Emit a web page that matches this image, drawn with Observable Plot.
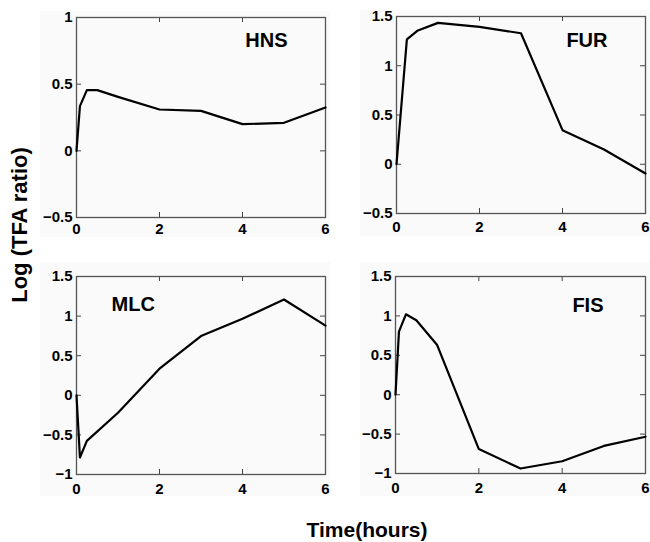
<!DOCTYPE html>
<html>
<head>
<meta charset="utf-8">
<script src="https://cdn.jsdelivr.net/npm/d3@7"></script>
<script src="https://cdn.jsdelivr.net/npm/@observablehq/plot@0.6"></script>
<style>
  html, body { margin: 0; padding: 0; background: #fff; }
  #wrap { position: relative; width: 650px; height: 542px; overflow: hidden; background: #fff; font-family: "Liberation Sans", Arial, sans-serif; }
</style>
</head>
<body>
<div id="wrap"></div>
<script>
// ---- data ----
const xTicks = [0, 2, 4, 6];

const hnsTime = [0, 0.083, 0.25, 0.5, 1, 2, 3, 4, 5, 6];
const hnsValue = [0, 0.335, 0.455, 0.455, 0.405, 0.31, 0.30, 0.20, 0.21, 0.325];
const hnsTicks = [-0.5, 0, 0.5, 1];

const furTime = [0, 0.25, 0.5, 1, 2, 3, 4, 5, 6];
const furValue = [0, 1.267, 1.355, 1.435, 1.395, 1.33, 0.346, 0.15, -0.094];
const furTicks = [-0.5, 0, 0.5, 1, 1.5];

const mlcTime = [0, 0.083, 0.25, 1, 2, 3, 4, 5, 6];
const mlcValue = [0, -0.785, -0.575, -0.22, 0.336, 0.748, 0.966, 1.21, 0.88];
const mlcTicks = [-1, -0.5, 0, 0.5, 1, 1.5];

const fisTime = [0, 0.083, 0.25, 0.5, 1, 2, 3, 4, 5, 6];
const fisValue = [0, 0.80, 1.02, 0.945, 0.63, -0.69, -0.937, -0.845, -0.65, -0.533];
const fisTicks = [-1, -0.5, 0, 0.5, 1, 1.5];

const panelNames = ["HNS", "FUR", "MLC", "FIS"];
const yLabel = "Log (TFA ratio)";
const xLabel = "Time(hours)";

// ---- layout ----
const fmt = d => String(d).replace("-", "\u2212");
const TICK = 5;

const panels = [
  {name: panelNames[0], t: hnsTime, v: hnsValue, yt: hnsTicks, left: 40, top: 11, w: 290, h: 226,
   ml: 36, mr: 5, mt: 6, mb: 20, xpad: 6, anchor: "top-right", dx: -38, dy: 15},
  {name: panelNames[1], t: furTime, v: furValue, yt: furTicks, left: 360, top: 10, w: 290, h: 226,
   ml: 36, mr: 5, mt: 6, mb: 23, xpad: 8, anchor: "top-right", dx: -38, dy: 16},
  {name: panelNames[2], t: mlcTime, v: mlcValue, yt: mlcTicks, left: 40, top: 262, w: 290, h: 234,
   ml: 36, mr: 5, mt: 14, mb: 22, xpad: 9, anchor: "top-left", dx: 35, dy: 20},
  {name: panelNames[3], t: fisTime, v: fisValue, yt: fisTicks, left: 360, top: 262, w: 290, h: 234,
   ml: 35, mr: 5, mt: 14, mb: 23, xpad: 9, anchor: "top-right", dx: -42, dy: 21}
];

const wrap = document.getElementById("wrap");

for (const p of panels) {
  const data = p.t.map((t, i) => ({t, v: p.v[i]}));
  const yDom = [p.yt[0], p.yt[p.yt.length - 1]];
  const fw = p.w - p.ml - p.mr;
  const fh = p.h - p.mt - p.mb;
  const chart = Plot.plot({
    width: p.w,
    height: p.h,
    marginLeft: p.ml,
    marginRight: p.mr,
    marginTop: p.mt,
    marginBottom: p.mb,
    style: {background: "#fafafa", fontFamily: "'Liberation Sans', Arial, sans-serif", fontWeight: "bold", color: "#000", overflow: "visible"},
    x: {domain: [0, 6], axis: null},
    y: {domain: yDom, axis: null},
    marks: [
      // tick labels
      Plot.text(xTicks.map(v => ({v, s: fmt(v)})), {x: "v", text: "s", frameAnchor: "bottom", lineAnchor: "top", dy: p.xpad,
        fontSize: 15, fontWeight: "bold", fill: "#000"}),
      Plot.text(p.yt.map(v => ({v, s: fmt(v)})), {y: "v", text: "s", frameAnchor: "left", textAnchor: "end", dx: -4,
        fontSize: 15, fontWeight: "bold", fill: "#000"}),
      // inward tick marks on all four sides
      Plot.ruleX(xTicks, {x: d => d, insetTop: fh - TICK, stroke: "#444"}),
      Plot.ruleX(xTicks, {x: d => d, insetBottom: fh - TICK, stroke: "#444"}),
      Plot.ruleY(p.yt, {y: d => d, insetRight: fw - TICK, stroke: "#444"}),
      Plot.ruleY(p.yt, {y: d => d, insetLeft: fw - TICK, stroke: "#444"}),
      Plot.frame({stroke: "#555", strokeWidth: 1.3}),
      Plot.line(data, {x: "t", y: "v", stroke: "#000", strokeWidth: 2.2}),
      Plot.text([p.name], {frameAnchor: p.anchor, text: d => d, dx: p.dx, dy: p.dy,
        textAnchor: p.anchor === "top-left" ? "start" : "end", lineAnchor: "top",
        fontSize: 20, fontWeight: "bold", fill: "#000"})
    ]
  });
  chart.style.position = "absolute";
  chart.style.left = p.left + "px";
  chart.style.top = p.top + "px";
  wrap.appendChild(chart);
}

// overall axis titles
const ns = "http://www.w3.org/2000/svg";
const overlay = document.createElementNS(ns, "svg");
overlay.setAttribute("width", 650);
overlay.setAttribute("height", 542);
overlay.style.position = "absolute";
overlay.style.left = "0px";
overlay.style.top = "0px";
overlay.style.pointerEvents = "none";
overlay.style.fontFamily = "'Liberation Sans', Arial, sans-serif";

const yt = document.createElementNS(ns, "text");
yt.setAttribute("transform", "translate(27,225) rotate(-90)");
yt.setAttribute("text-anchor", "middle");
yt.setAttribute("font-size", 22);
yt.setAttribute("font-weight", "bold");
yt.textContent = yLabel;
overlay.appendChild(yt);

const xt = document.createElementNS(ns, "text");
xt.setAttribute("x", 367);
xt.setAttribute("y", 537);
xt.setAttribute("text-anchor", "middle");
xt.setAttribute("font-size", 21);
xt.setAttribute("font-weight", "bold");
xt.textContent = xLabel;
overlay.appendChild(xt);

wrap.appendChild(overlay);
</script>
</body>
</html>
